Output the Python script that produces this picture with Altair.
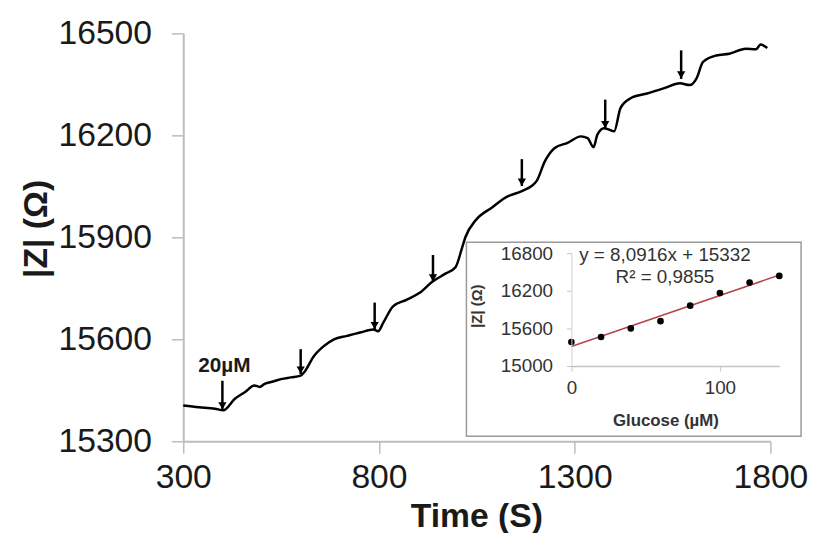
import altair as alt
import pandas as pd

# ---------------- main trace: time (s) vs |Z| (ohm) ----------------
time_s = [300, 340, 381, 402, 432, 458, 482, 495, 508, 530, 550, 575, 600, 609,
          634, 659, 685, 718, 752, 786, 798, 811, 836, 870, 903, 937, 971, 996,
          1013, 1021, 1047, 1089, 1123, 1165, 1190, 1203, 1224, 1249, 1282, 1316,
          1333, 1348, 1358, 1375, 1388, 1401, 1417, 1443, 1485, 1527, 1569, 1594,
          1611, 1628, 1662, 1695, 1737, 1763, 1775, 1792]
impedance = [15405, 15400, 15396, 15391, 15425, 15445, 15464, 15460, 15469, 15476,
             15483, 15488, 15493, 15503, 15551, 15580, 15600, 15610, 15620, 15629,
             15624, 15649, 15697, 15716, 15736, 15770, 15794, 15813, 15872, 15901,
             15950, 15988, 16017, 16036, 16051, 16066, 16124, 16163, 16178, 16197,
             16192, 16165, 16202, 16221, 16217, 16212, 16280, 16309, 16323, 16338,
             16353, 16348, 16367, 16416, 16435, 16440, 16455, 16453, 16467, 16457]

# injection arrows
arrow_t = [400, 600, 789, 938, 1165, 1378, 1572]
arrow_top = [15478, 15571, 15708, 15848, 16130, 16305, 16450]
arrow_bottom = [15393, 15498, 15629, 15769, 16051, 16220, 16366]

label_t = [405]
label_z = [15521]
label_txt = ["20µM"]

# ---------------- inset: calibration ----------------
glucose = [0, 20, 40, 60, 80, 100, 120, 140]
inset_z = [15384, 15463, 15600, 15716, 15963, 16163, 16331, 16437]
eq_text = ["y = 8,0916x + 15332", "R² = 0,9855"]
eq_g = [63, 63]
eq_z = [16768, 16421]

FONT = "Liberation Sans"

main_df = pd.DataFrame({"t": time_s, "Z": impedance})
arrow_df = pd.DataFrame({"t": arrow_t, "Z": arrow_top, "Z2": arrow_bottom})
label_df = pd.DataFrame({"t": label_t, "Z": label_z, "txt": label_txt})
inset_df = pd.DataFrame({"g": glucose, "z": inset_z})
eq_df = pd.DataFrame({"g": eq_g, "z": eq_z, "txt": eq_text})

x_main = alt.Axis(values=[300, 800, 1300, 1800], format="d", labelFontSize=34,
                  labelFont=FONT, labelColor="#1a1a1a", domainColor="#bdbdbd",
                  domainWidth=2, tickColor="#bdbdbd", tickSize=12, tickWidth=1.5,
                  labelPadding=8, title="Time (S)", titleFont=FONT, titleFontSize=34,
                  titleFontWeight="bold", titleColor="#1a1a1a", titleX=296, titleY=76,
                  titleBaseline="middle", titleAlign="center", grid=False,
                  labelFlush=False)
y_main = alt.Axis(values=[15300, 15600, 15900, 16200, 16500], format="d",
                  labelFontSize=34, labelFont=FONT, labelColor="#1a1a1a",
                  domainColor="#bdbdbd", domainWidth=2, tickColor="#bdbdbd",
                  tickSize=12, tickWidth=1.5, labelPadding=20, title="|Z| (Ω)",
                  titleFont=FONT, titleFontSize=34, titleFontWeight="bold",
                  titleColor="#1a1a1a", titleX=-148, titleY=197, titleAngle=270,
                  titleBaseline="middle", titleAlign="center", grid=False)

xs = alt.Scale(domain=[300, 1800], nice=False, zero=False)
ys = alt.Scale(domain=[15300, 16500], nice=False, zero=False)

line = alt.Chart(main_df).mark_line(color="black", strokeWidth=2.5,
                                     interpolate="monotone").encode(
    x=alt.X("t:Q", scale=xs, axis=x_main),
    y=alt.Y("Z:Q", scale=ys, axis=y_main),
)
shafts = alt.Chart(arrow_df).mark_rule(color="black", strokeWidth=2.5).encode(
    x=alt.X("t:Q", scale=xs, axis=x_main),
    y=alt.Y("Z:Q", scale=ys, axis=y_main),
    y2="Z2:Q",
)
heads = alt.Chart(arrow_df).mark_point(shape="triangle-down", filled=True,
                                       color="black", size=70, opacity=1,
                                       yOffset=-4).encode(
    x=alt.X("t:Q", scale=xs, axis=x_main),
    y=alt.Y("Z2:Q", scale=ys, axis=y_main),
)
lab = alt.Chart(label_df).mark_text(font=FONT, fontSize=21, fontWeight="bold",
                                    color="#1a1a1a").encode(
    x=alt.X("t:Q", scale=xs, axis=x_main),
    y=alt.Y("Z:Q", scale=ys, axis=y_main),
    text="txt:N",
)
main = alt.layer(line, shafts, heads, lab)

box = alt.Chart(pd.DataFrame({"a": [0]})).mark_rect(
    fill="white", stroke="#9a9a9a", strokeWidth=1.5).encode(
    x=alt.value(286), x2=alt.value(624), y=alt.value(211), y2=alt.value(407))

gx = alt.Scale(domain=[0, 140], range=[392, 602], nice=False, zero=False)
gy = alt.Scale(domain=[15000, 16800], range=[336, 222], nice=False, zero=False)
x_in = alt.Axis(orient="bottom", offset=-76, values=[0, 100], format="d",
                labelFontSize=19, labelFont=FONT, labelColor="#333333",
                domainColor="#c4c4c4", domainWidth=1.5, tickColor="#c4c4c4",
                tickSize=5, labelPadding=8, title="Glucose (µM)", titleFont=FONT,
                titleFontSize=17, titleFontWeight="bold", titleColor="#333333",
                titleX=487, titleY=55, titleBaseline="middle", titleAlign="center",
                grid=False, labelFlush=False, zindex=2)
y_in = alt.Axis(orient="left", offset=-392, values=[15000, 15600, 16200, 16800],
                format="d", labelFontSize=19, labelFont=FONT, labelColor="#333333",
                domainColor="#d0d0d0", domainWidth=1, tickColor="#c4c4c4",
                tickSize=5, labelPadding=14, title="|Z| (Ω)", titleFont=FONT,
                titleFontSize=15, titleFontWeight="bold", titleColor="#333333",
                titleX=-96, titleY=275, titleAngle=270, titleBaseline="middle",
                titleAlign="center", grid=False, labelFlush=False, zindex=2)

pts = alt.Chart(inset_df).mark_circle(color="black", size=45, opacity=1).encode(
    x=alt.X("g:Q", scale=gx, axis=x_in),
    y=alt.Y("z:Q", scale=gy, axis=y_in),
)
reg = alt.Chart(inset_df).transform_regression(
    "g", "z", extent=[0, 140]).mark_line(color="#b5474b", strokeWidth=1.6).encode(
    x=alt.X("g:Q", scale=gx, axis=x_in),
    y=alt.Y("z:Q", scale=gy, axis=y_in),
)
eq = alt.Chart(eq_df).mark_text(font=FONT, fontSize=19, color="#333333").encode(
    x=alt.X("g:Q", scale=gx, axis=x_in),
    y=alt.Y("z:Q", scale=gy, axis=y_in),
    text="txt:N",
)
inset = alt.layer(reg, pts, eq)

chart = alt.layer(main, box, inset).resolve_scale(
    x="independent", y="independent"
).properties(
    width=593, height=412,
    padding={"left": 177, "top": 23, "right": 40, "bottom": 90},
    autosize=alt.AutoSizeParams(type="none"),
).configure_view(stroke=None)

chart.save("out.html", embed_options={"renderer": "svg", "actions": False})
